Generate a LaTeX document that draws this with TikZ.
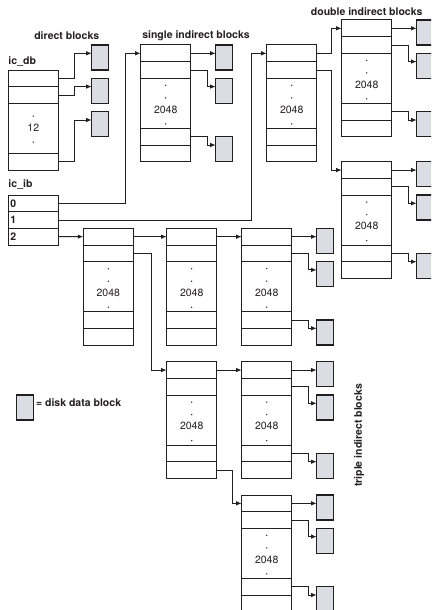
\documentclass[tikz,border=0pt]{standalone}
\usepackage{fontspec}
\setmainfont{TeX Gyre Heros}
\usetikzlibrary{arrows.meta,positioning,calc}

\definecolor{ink}{RGB}{35,31,32}
\definecolor{diskgray}{RGB}{218,221,226}

\tikzset{
    cell/.style={draw, line width=1pt, minimum width=50pt, minimum height=16.7pt, inner sep=0pt, outer sep=0pt},
    bigcell/.style={cell, minimum height=50pt},
    idx/.style={cell, head, text width=46pt, align=left},
    disk/.style={draw, line width=1.1pt, fill=diskgray, minimum width=16.7pt, minimum height=25pt, inner sep=0pt, outer sep=0pt, anchor=north west},
    ptr/.style={line width=1pt, -{Latex[length=5.5pt,width=4.5pt]}},
    head/.style={font=\bfseries\fontsize{10.5}{12}\selectfont},
    num/.style={font=\fontsize{10.5}{12}\selectfont, inner sep=0pt},
}

% pointer block: 2 rows, the 2048 part, 2 rows
\newcommand{\idxblock}[3]{%
    \node[cell, anchor=north west] (#1-1) at (#2,#3) {};
    \node[cell, below=0pt of #1-1] (#1-2) {};
    \node[bigcell, below=0pt of #1-2] (#1-m) {};
    \node[cell, below=0pt of #1-m] (#1-4) {};
    \node[cell, below=0pt of #1-4] (#1-5) {};
    \node[num] (#1-n) at ($(#1-m.north)+(0,-31)$) {2048};
    \fill ($(#1-m.north)+(0,-7)$) circle (0.75pt);
    \fill ($(#1-m.north)+(0,-19.5)$) circle (0.75pt);
    \fill ($(#1-m.north)+(0,-45.5)$) circle (0.75pt);
}

% three disk data blocks hanging off a pointer block
\newcommand{\diskset}[1]{%
    \node[disk] (#1-d1) at ($(#1-1.north east)+(25,0)$) {};
    \node[disk] (#1-d2) at ($(#1-1.north east)+(25,-33.3)$) {};
    \node[disk] (#1-d3) at ($(#1-1.north east)+(25,-91.7)$) {};
    \draw[ptr] (#1-1.east) -- (#1-d1.west |- #1-1.east);
    \draw[ptr] (#1-2.east) -- ++(16.7,0) |- ($(#1-d2.north west)+(0,-8.3)$);
    \draw[ptr] (#1-4.east) -- ++(16.7,0) |- ($(#1-d3.north west)+(0,-8.3)$);
}

\begin{document}
\begin{tikzpicture}[x=1pt, y=1pt, color=ink]
    \useasboundingbox (0,0) rectangle (431,-610);
    \clip (0,0) rectangle (431,-610);

    \node[head] (hdb) at (66.7,-36) {direct blocks};
    \node[head] (hsi) at (196,-36) {single indirect blocks};
    \node[head] (hdi) at (366.7,-11.7) {double indirect blocks};
    \node[head, rotate=90] (hti) at (359,-435.5) {triple indirect blocks};
    \node[head, anchor=west, inner sep=0pt] (ldb) at (8.3,-61.7) {ic\_db};
    \node[head, anchor=west, inner sep=0pt] (lib) at (8.3,-185) {ic\_ib};

    % ic_db and the direct blocks
    \node[cell, anchor=north west] (db-1) at (8.3,-70) {};
    \node[cell, below=0pt of db-1] (db-2) {};
    \node[bigcell, below=0pt of db-2] (db-m) {};
    \node[cell, below=0pt of db-m] (db-4) {};
    \node[num] (db-n) at ($(db-m.north)+(0,-24.3)$) {12};
    \fill ($(db-m.north)+(0,-12.7)$) circle (0.75pt);
    \fill ($(db-m.north)+(0,-38.7)$) circle (0.75pt);

    \node[disk] (dd1) at (91.7,-45) {};
    \node[disk] (dd2) at (91.7,-78.3) {};
    \node[disk] (dd3) at (91.7,-111.7) {};
    \draw[ptr] (db-1.east) -- ++(16,0) |- ($(dd1.north west)+(0,-8.3)$);
    \draw[ptr] (db-2.east) -- ++(16,0) |- ($(dd2.north west)+(0,-8.3)$);
    \draw[ptr] (db-4.east) -- ++(16,0) |- ($(dd3.north west)+(0,-8.3)$);

    % ic_ib
    \node[idx, anchor=north west] (ib-0) at (8.3,-195) {0};
    \node[idx, below=0pt of ib-0] (ib-1) {1};
    \node[idx, below=0pt of ib-1] (ib-2) {2};

    % single indirect
    \idxblock{si}{140.7}{-45}
    \diskset{si}

    % double indirect
    \idxblock{di}{266.7}{-45}
    \idxblock{dia}{341.7}{-20}
    \idxblock{dib}{341.7}{-161.7}
    \diskset{dia}
    \diskset{dib}
    \draw[ptr] (di-1.east) -- ++(15,0) |- (dia-1.west);
    \draw[ptr] (di-2.east) -- ++(15,0) |- (dib-1.west);

    % triple indirect
    \idxblock{t1}{83.3}{-228.3}
    \idxblock{t2a}{166.7}{-228.3}
    \idxblock{t2b}{166.7}{-361.7}
    \idxblock{t3a}{241.7}{-228.3}
    \idxblock{t3b}{241.7}{-361.7}
    \idxblock{t3c}{241.7}{-495}
    \diskset{t3a}
    \diskset{t3b}
    \diskset{t3c}
    \draw[ptr] (t1-1.east) -- (t2a-1.west);
    \draw[ptr] (t1-2.east) -- ++(17.7,0) |- (t2b-1.west);
    \draw[ptr] (t2a-1.east) -- (t3a-1.west);
    \draw[ptr] (t2b-1.east) -- (t3b-1.west);
    \draw[ptr] (t2b-5.east) -- ++(16,0) |- (t3c-1.west);

    \draw[ptr] (ib-0.east) -| ($(si-1.west)+(-15.7,0)$) -- (si-1.west);
    \draw[ptr] (ib-1.east) -| ($(di-1.west)+(-15.7,0)$) -- (di-1.west);
    \draw[ptr] (ib-2.east) -- (t1-1.west);

    % legend
    \node[disk] (key) at (16.7,-395) {};
    \node[head, anchor=west, inner sep=0pt] (keytxt) at ($(key.north east)+(2.5,-7.3)$) {= disk data block};
\end{tikzpicture}
\end{document}
